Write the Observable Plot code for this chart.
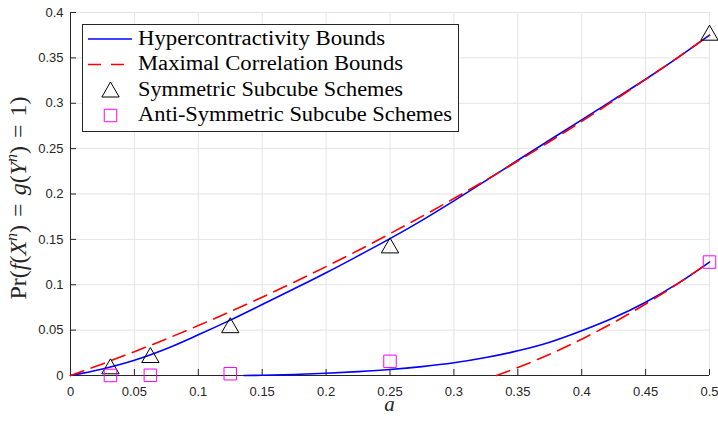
<!DOCTYPE html>
<html><head><meta charset="utf-8">
<script src="https://cdn.jsdelivr.net/npm/d3@7"></script>
<script src="https://cdn.jsdelivr.net/npm/@observablehq/plot@0.6"></script>
<style>body{margin:0;background:#fff}#chart{width:718px;height:423px}</style>
</head><body><div id="chart"></div>
<script>
// ---- data ----
const aGrid   = [0,0.025,0.05,0.075,0.1,0.125,0.15,0.175,0.2,0.225,0.25,0.275,0.3,0.325,0.35,0.375,0.4,0.425,0.45,0.475,0.5];
const hcUpper = [0,0.0072,0.0168,0.0295,0.0448,0.061,0.0782,0.0955,0.1132,0.1318,0.1508,0.171,0.1925,0.2147,0.2372,0.2595,0.2817,0.304,0.3264,0.35,0.375];
const mcUpper = [0,0.0128,0.0263,0.0403,0.055,0.0703,0.0863,0.1028,0.12,0.1378,0.1563,0.1753,0.195,0.2153,0.2363,0.2578,0.28,0.3028,0.3263,0.3503,0.375];
const hcLowerA = [0.1356,0.15,0.175,0.2,0.225,0.25,0.275,0.3,0.325,0.35,0.375,0.4,0.425,0.45,0.475,0.5];
const hcLower  = [0,0.0003,0.0011,0.0025,0.0043,0.0066,0.0098,0.014,0.0198,0.0272,0.0367,0.0493,0.0636,0.0808,0.1012,0.125];
const mcLowerA = [0.3333,0.35,0.375,0.4,0.425,0.45,0.475,0.5];
const mcLower  = [0,0.0088,0.0234,0.04,0.0584,0.0788,0.1009,0.125];
const schemeA  = [0.03125,0.0625,0.125,0.25,0.5];
const symVals  = [0.0074,0.0198,0.0527,0.1406,0.375];
const antiVals = [0.00003,0.00024,0.00195,0.0156,0.125];
const xTicks = [0,0.05,0.1,0.15,0.2,0.25,0.3,0.35,0.4,0.45,0.5];
const yTicks = [0,0.05,0.1,0.15,0.2,0.25,0.3,0.35,0.4];
const legendLabels = ["Hypercontractivity Bounds","Maximal Correlation Bounds","Symmetric Subcube Schemes","Anti-Symmetric Subcube Schemes"];

// ---- tables ----
const upper = aGrid.map((a,i)=>({a, hc: hcUpper[i], mc: mcUpper[i]}));
const hcLow = hcLowerA.map((a,i)=>({a, v: hcLower[i]}));
const mcLow = mcLowerA.map((a,i)=>({a, v: mcLower[i]}));
const sym = schemeA.map((a,i)=>({a, v: symVals[i]}));
const anti = schemeA.map((a,i)=>({a, v: antiVals[i]}));

const W = 718, H = 423, mL = 70, mR = 9, mT = 12, mB = 48;
const fw = W - mL - mR, fh = H - mT - mB;
const axisCol = "#262626", gridCol = "#e4e4e4";
const BLUE = "#0000ff", RED = "#ff0000", MAG = "#ff00ff";
const dash = "14,8";

const plot = Plot.plot({
  width: W, height: H,
  marginLeft: mL, marginRight: mR, marginTop: mT, marginBottom: mB,
  style: {fontFamily: "'Liberation Sans', Arial, sans-serif", background: "#fff", overflow: "visible"},
  x: {domain: [0, 0.5]},
  y: {domain: [0, 0.4]},
  marks: [
    Plot.gridX(xTicks, {stroke: gridCol, strokeOpacity: 1}),
    Plot.gridY(yTicks, {stroke: gridCol, strokeOpacity: 1}),
    Plot.ruleX([0], {stroke: axisCol}),
    Plot.ruleY([0], {stroke: axisCol}),
    Plot.tickX(xTicks, {x: d => d, insetTop: fh - 6, stroke: axisCol}),
    Plot.tickY(yTicks, {y: d => d, insetRight: fw - 6, stroke: axisCol}),
    Plot.axisX(xTicks, {tickSize: 0, tickPadding: 11, fontSize: 13, fill: axisCol, label: null, tickFormat: d => String(d)}),
    Plot.axisY(yTicks, {tickSize: 0, tickPadding: 7, fontSize: 13, fill: axisCol, label: null, tickFormat: d => String(d)}),
    Plot.line(upper, {x: "a", y: "hc", stroke: BLUE, strokeWidth: 1.6, curve: "catmull-rom"}),
    Plot.line(hcLow, {x: "a", y: "v", stroke: BLUE, strokeWidth: 1.6, curve: "catmull-rom"}),
    Plot.line(upper, {x: "a", y: "mc", stroke: RED, strokeWidth: 1.6, strokeDasharray: dash, curve: "catmull-rom"}),
    Plot.line(mcLow, {x: "a", y: "v", stroke: RED, strokeWidth: 1.6, strokeDasharray: dash, curve: "catmull-rom"}),
    Plot.dot(sym, {x: "a", y: "v", symbol: "triangle", r: 6.43, stroke: "#000", fill: "none", strokeWidth: 1}),
    Plot.dot(anti, {x: "a", y: "v", symbol: "square", r: 7.05, stroke: MAG, fill: "none", strokeWidth: 1})
  ]
});
document.getElementById("chart").appendChild(plot);

const svg = d3.select(plot);
const serif = "'Liberation Serif', 'Times New Roman', serif";

// legend
const lg = svg.append("g").attr("text-anchor", "start");
lg.append("rect").attr("x", 82.5).attr("y", 24.5).attr("width", 376).attr("height", 107)
  .attr("fill", "#fff").attr("stroke", axisCol).attr("stroke-width", 1);
const rows = [39, 64.5, 90, 115.5];
const base = [44.5, 70, 95.5, 121];
const lens = [247, 265, 265, 314];
lg.append("line").attr("x1", 88).attr("x2", 132).attr("y1", rows[0]).attr("y2", rows[0]).attr("stroke", BLUE).attr("stroke-width", 1.6);
lg.append("line").attr("x1", 88).attr("x2", 132).attr("y1", rows[1]).attr("y2", rows[1]).attr("stroke", RED).attr("stroke-width", 1.6).attr("stroke-dasharray", "13,10");
lg.append("path").attr("d", d3.symbol(d3.symbolTriangle, Math.PI * 6.43 * 6.43)()).attr("transform", `translate(110.5,${rows[2] + 2})`)
  .attr("fill", "none").attr("stroke", "#000");
lg.append("path").attr("d", d3.symbol(d3.symbolSquare, Math.PI * 7.05 * 7.05)()).attr("transform", `translate(110.5,${rows[3]})`)
  .attr("fill", "none").attr("stroke", MAG);
legendLabels.forEach((t, i) => {
  lg.append("text").attr("x", 138).attr("y", base[i]).attr("text-anchor", "start").text(t)
    .attr("font-family", serif).attr("font-size", 20).attr("fill", "#000")
    .attr("textLength", lens[i]).attr("lengthAdjust", "spacingAndGlyphs");
});

// axis labels
svg.append("text").attr("x", mL + fw / 2).attr("y", 411).attr("text-anchor", "middle")
  .attr("font-family", serif).attr("font-size", 21).attr("font-style", "italic").attr("fill", axisCol).text("a");

const yl = svg.append("text").attr("transform", `translate(26,198) rotate(-90)`)
  .attr("text-anchor", "middle").attr("font-family", serif).attr("font-size", 24).attr("fill", axisCol);
const parts = [
  ["Pr(", "normal"], ["f", "italic"], ["(", "normal"], ["X", "italic"], ["n", "sup"], [")\u2004=\u2004", "down"],
  ["g", "italic"], ["(", "normal"], ["Y", "italic"], ["n", "sup"], [")\u2004=\u20041)", "down"]
];
parts.forEach(([t, s]) => {
  const ts = yl.append("tspan").text(t);
  if (s === "italic") ts.attr("font-style", "italic");
  if (s === "sup") ts.attr("font-style", "italic").attr("font-size", 16).attr("dy", -9);
  if (s === "down") ts.attr("dy", 9);
});
</script>
</body></html>
